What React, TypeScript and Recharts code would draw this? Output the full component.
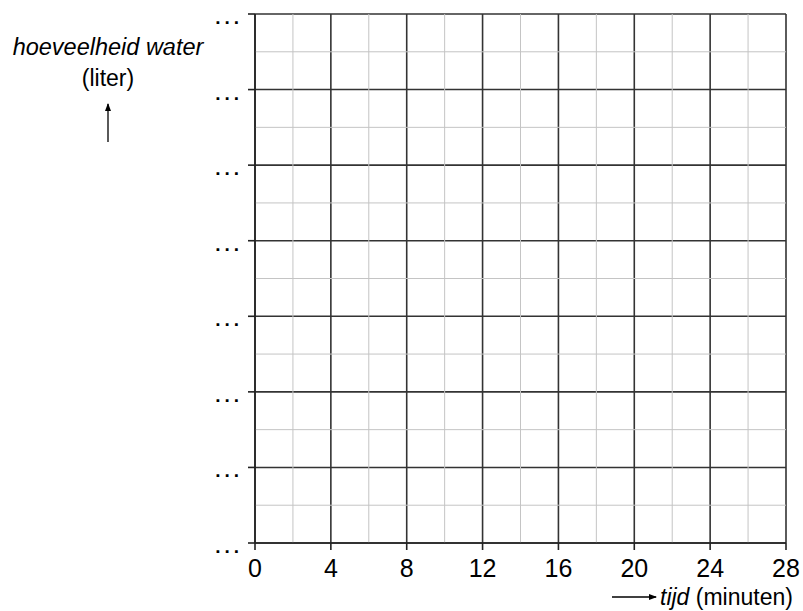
import { ComposedChart, XAxis, YAxis, CartesianGrid, ReferenceLine, Line } from 'recharts';

const xMajor = [0, 4, 8, 12, 16, 20, 24, 28];
const xMinor = [2, 6, 10, 14, 18, 22, 26];
const yMajor = [0, 2, 4, 6, 8, 10, 12, 14];
const yMinor = [1, 3, 5, 7, 9, 11, 13];
const yLabel = '...';

const data = xMajor.map(t => ({ t }));

const font = 'Arial, "Liberation Sans", sans-serif';

function YTick(props: any) {
  const { x, y } = props;
  return (
    <text x={x - 5} y={y + 10} textAnchor="end" fontFamily={font} fontSize={19} fontWeight="bold" letterSpacing={4} fill="#000">
      {yLabel}
    </text>
  );
}

function XTick(props: any) {
  const { x, y, payload } = props;
  return (
    <text x={x} y={y + 27} textAnchor="middle" fontFamily={font} fontSize={25} fill="#000">
      {payload.value}
    </text>
  );
}

export default function App() {
  return (
    <div style={{ position: 'absolute', left: 0, top: 0, width: 803, height: 611, background: '#fff' }}>
      <ComposedChart width={803} height={611} data={data} margin={{ top: 14, right: 17, bottom: 28, left: 195 }}>
        {xMinor.map(v => (
          <ReferenceLine key={'xm' + v} x={v} stroke="#c4c4c4" strokeWidth={1} ifOverflow="visible" />
        ))}
        {yMinor.map(v => (
          <ReferenceLine key={'ym' + v} y={v} stroke="#c4c4c4" strokeWidth={1} ifOverflow="visible" />
        ))}
        <CartesianGrid stroke="#333" strokeWidth={1.6} />
        <XAxis
          dataKey="t"
          type="number"
          domain={[0, 28]}
          ticks={xMajor}
          height={40}
          tickSize={7}
          tickMargin={0}
          stroke="#222"
          strokeWidth={1.6}
          tick={<XTick />}
          interval={0}
        />
        <YAxis
          type="number"
          domain={[0, 14]}
          allowDataOverflow
          ticks={yMajor}
          width={60}
          tickSize={7}
          tickMargin={0}
          stroke="#222"
          strokeWidth={1.6}
          tick={<YTick />}
          interval={0}
        />
        <Line dataKey="water" stroke="none" dot={false} isAnimationActive={false} />
      </ComposedChart>
      <svg width={803} height={611} style={{ position: 'absolute', left: 0, top: 0, pointerEvents: 'none' }}>
        <defs>
          <marker id="ah" markerWidth="8" markerHeight="8" refX="7" refY="4" orient="auto" markerUnits="userSpaceOnUse">
            <path d="M0,1 L8,4 L0,7 Z" fill="#000" />
          </marker>
        </defs>
        <text x={108} y={55} textAnchor="middle" fontFamily={font} fontSize={23.5} fontStyle="italic" fill="#000">
          hoeveelheid water
        </text>
        <text x={108} y={86} textAnchor="middle" fontFamily={font} fontSize={23} fill="#000">
          (liter)
        </text>
        <line x1={108} y1={142} x2={108} y2={104} stroke="#000" strokeWidth={1.3} markerEnd="url(#ah)" />
        <line x1={612} y1={597} x2={656} y2={597} stroke="#000" strokeWidth={1.3} markerEnd="url(#ah)" />
        <text x={660} y={605} fontFamily={font} fontSize={23} fill="#000">
          <tspan fontStyle="italic">tijd</tspan> (minuten)
        </text>
      </svg>
    </div>
  );
}
